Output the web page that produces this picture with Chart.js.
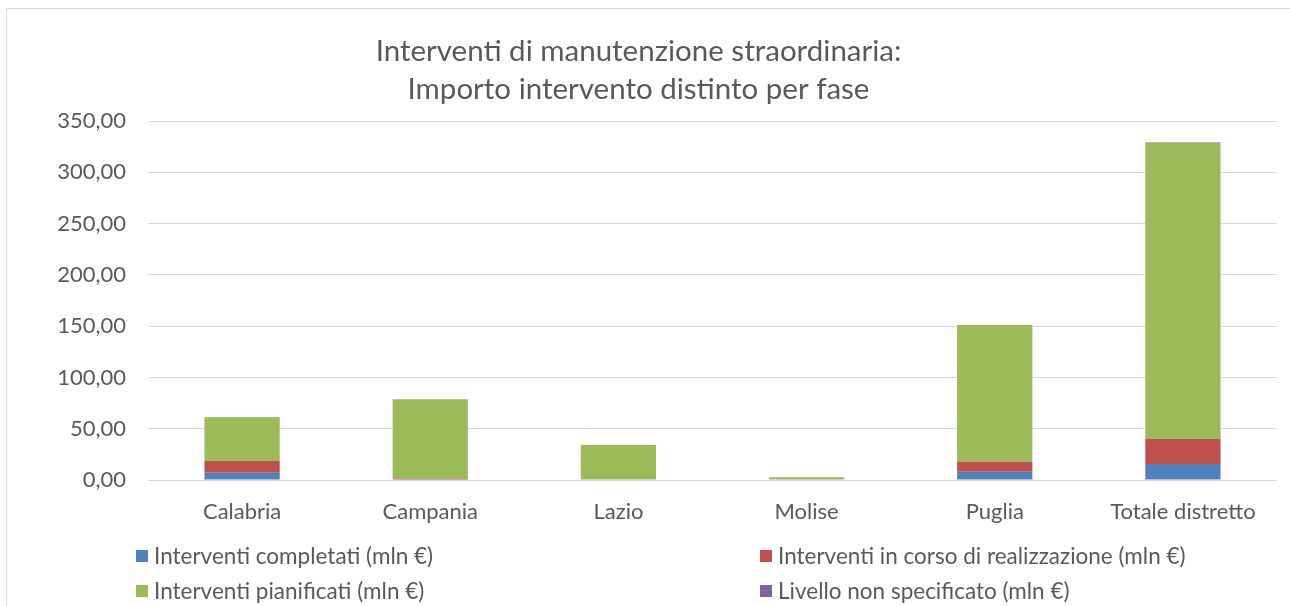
<!DOCTYPE html>
<html><head><meta charset="utf-8">
<script src="https://cdn.jsdelivr.net/npm/chart.js@4"></script>
<style>
html,body{margin:0;padding:0;background:#fff;width:1290px;height:606px;overflow:hidden;}
#wrap{position:relative;width:1290px;height:606px;}
#frame{position:absolute;left:6px;top:8px;width:1400px;height:700px;border:1.5px solid #d9d9d9;box-sizing:border-box;}
#c{position:absolute;left:0;top:0;}
.lg{position:absolute;font-family:Lato,sans-serif;font-size:22.5px;color:#595959;white-space:nowrap;line-height:26px;height:26px;}
.sw{position:absolute;width:12px;height:12px;top:7px;}
</style></head>
<body>
<div id="wrap">
  <div id="frame"></div>
  <canvas id="c" width="1290" height="606"></canvas>
  <div id="legend"></div>
</div>
<script>
const categories = ['Calabria', 'Campania', 'Lazio', 'Molise', 'Puglia', 'Totale distretto'];
const completati = [7.1, 0, 0, 0, 8.1, 15.6];
const inCorso = [11.4, 1.2, 0, 0, 9.7, 24.4];
const pianificati = [42.6, 77.5, 34.1, 2.7, 133.3, 288.7];
const nonSpecificato = [0.3, 0, 0, 0, 0, 0.7];
const seriesLabels = [
  'Interventi completati (mln €)',
  'Interventi in corso di realizzazione (mln €)',
  'Interventi pianificati (mln €)',
  'Livello non specificato (mln €)'
];
const seriesColors = ['#4F81BD', '#C0504D', '#9BBB59', '#8064A2'];
const titleLines = ['Interventi di manutenzione straordinaria:', 'Importo intervento distinto per fase'];

const textColor = '#595959';
const values = [completati, inCorso, pianificati, nonSpecificato];

const chart = new Chart(document.getElementById('c'), {
  type: 'bar',
  data: {
    labels: categories,
    datasets: values.map((v, i) => ({
      label: seriesLabels[i],
      data: v,
      backgroundColor: seriesColors[i],
      borderWidth: 0,
      categoryPercentage: 1,
      barPercentage: 0.4
    }))
  },
  options: {
    responsive: false,
    animation: false,
    devicePixelRatio: 1,
    layout: { padding: { left: 0, right: 13, top: 0, bottom: 0 } },
    plugins: {
      legend: { display: false },
      tooltip: { enabled: false },
      title: {
        display: true,
        text: titleLines,
        color: textColor,
        font: { family: 'Lato', size: 29.5, weight: 'normal', lineHeight: 38 / 29.5 },
        padding: { top: 32, bottom: 13 }
      }
    },
    scales: {
      x: {
        stacked: true,
        grid: { display: false, drawTicks: false },
        border: { display: false },
        ticks: { color: textColor, font: { family: 'Lato', size: 22 }, padding: 19, maxRotation: 0, autoSkip: false },
        afterFit: (s) => { s.height = 126; }
      },
      y: {
        stacked: true,
        min: 0,
        max: 350,
        grid: { color: '#D9D9D9', lineWidth: 1, drawTicks: false },
        border: { display: false },
        ticks: {
          stepSize: 50,
          color: textColor,
          font: { family: 'Lato', size: 22 },
          padding: 22,
          callback: (v) => Number(v).toFixed(2).replace('.', ',')
        },
        afterFit: (s) => { s.width = 148; }
      }
    }
  }
});

// Legend in 2 columns, built from the chart datasets
const legendPos = [[136, 543], [760, 543], [136, 578], [760, 578]];
const lg = document.getElementById('legend');
chart.data.datasets.forEach((ds, i) => {
  const d = document.createElement('div');
  d.className = 'lg';
  d.style.left = legendPos[i][0] + 'px';
  d.style.top = legendPos[i][1] + 'px';
  d.style.paddingLeft = '18px';
  const sw = document.createElement('span');
  sw.className = 'sw';
  sw.style.left = '0px';
  sw.style.background = ds.backgroundColor;
  d.appendChild(sw);
  d.appendChild(document.createTextNode(ds.label));
  lg.appendChild(d);
});
</script>
</body></html>
